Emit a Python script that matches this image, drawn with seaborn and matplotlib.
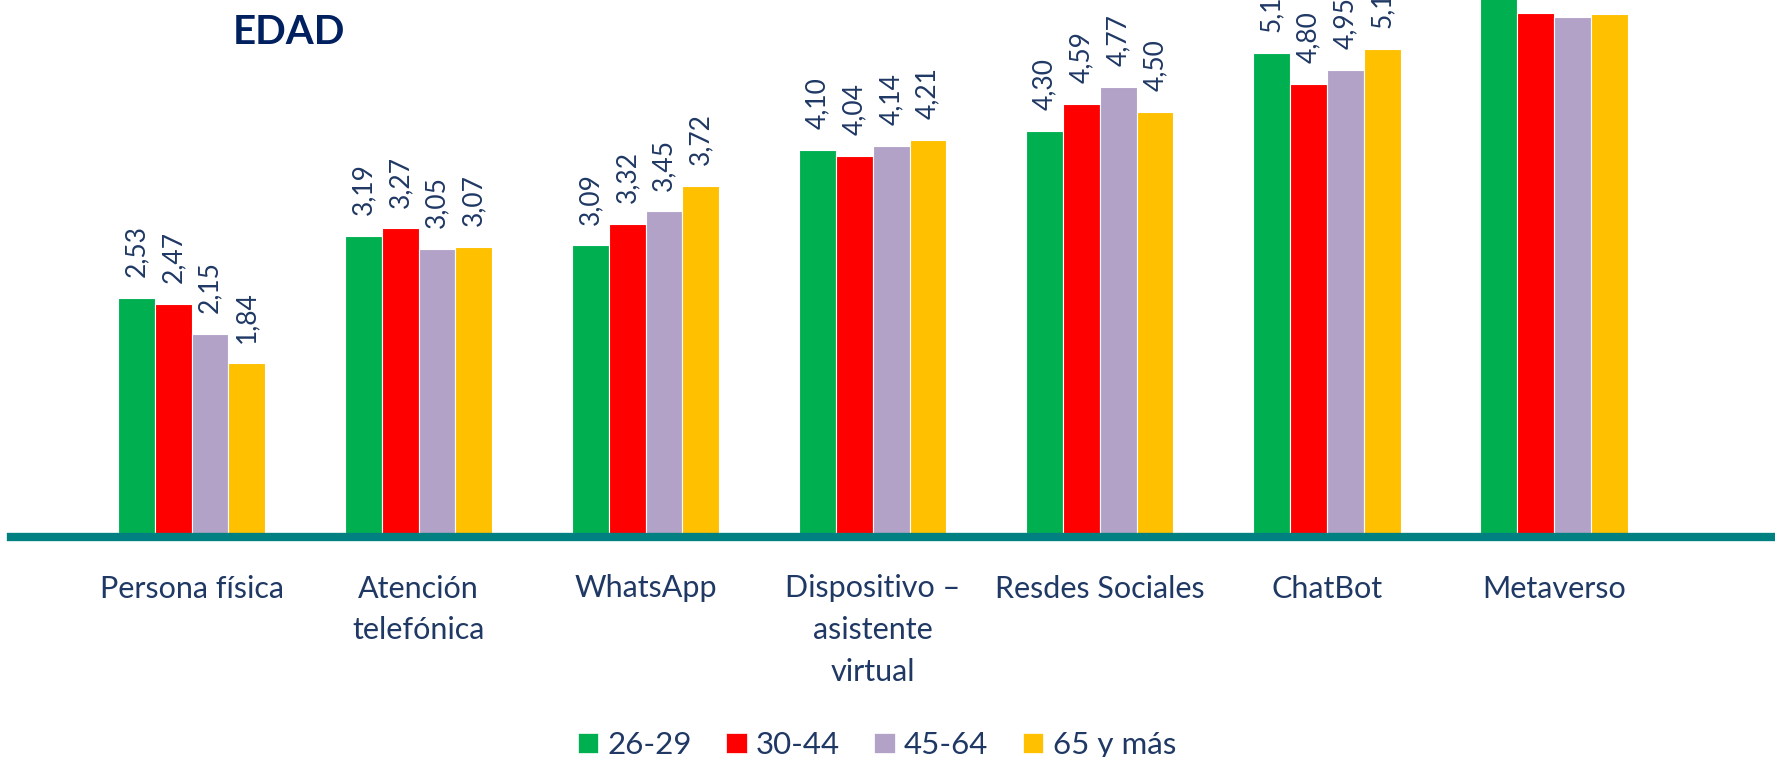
import matplotlib
matplotlib.use("Agg")
import matplotlib.pyplot as plt
from matplotlib.patches import Patch
import seaborn as sns
import pandas as pd

# ---- data ----
categories = ['Persona física', 'Atención\ntelefónica', 'WhatsApp',
              'Dispositivo –\nasistente\nvirtual', 'Resdes Sociales',
              'ChatBot', 'Metaverso']
groups = ['26-29', '30-44', '45-64', '65 y más']
v_26_29 = [2.53, 3.19, 3.09, 4.10, 4.30, 5.13, 5.80]
v_30_44 = [2.47, 3.27, 3.32, 4.04, 4.59, 4.80, 5.55]
v_45_64 = [2.15, 3.05, 3.45, 4.14, 4.77, 4.95, 5.51]
v_65 = [1.84, 3.07, 3.72, 4.21, 4.50, 5.17, 5.54]
series = [v_26_29, v_30_44, v_45_64, v_65]
colors = ['#00B050', '#FF0000', '#B3A2C7', '#FFC000']
title = 'EDAD'

sns.set_style('white')
plt.rcParams['font.family'] = ['Lato', 'DejaVu Sans']

rows = []
for g, vals in zip(groups, series):
    for c, v in zip(categories, vals):
        rows.append({'Canal': c, 'Edad': g, 'Valor': v})
df = pd.DataFrame(rows)

fig = plt.figure(figsize=(17.75, 7.57), dpi=100)
ax = fig.add_axes([11 / 1775, 220 / 757, 1 - 11 / 1775, 537 / 757])

sns.barplot(data=df, x='Canal', y='Valor', hue='Edad', order=categories,
            hue_order=groups, palette=colors, width=0.648, saturation=1,
            edgecolor='white', linewidth=0.8, legend=False, ax=ax,
            errorbar=None)

navy = '#1F3864'
for cont, vals in zip(ax.containers, series):
    labels = [f"{v:.2f}".replace('.', ',') for v in vals]
    ax.bar_label(cont, labels=labels, rotation=90, padding=15,
                 fontsize=19, color=navy)

ax.set_xlim(-0.795, 6.973)
ax.set_ylim(0, 5.69)
ax.set_yticks([])
ax.set_xlabel('')
ax.set_ylabel('')
ax.set_xticks(range(len(categories)))
ax.set_xticklabels(categories, fontsize=22, color=navy, linespacing=1.6)
ax.tick_params(axis='x', length=0, pad=27)
for s in ['top', 'right', 'left']:
    ax.spines[s].set_visible(False)
ax.spines['bottom'].set_color('#008080')
ax.spines['bottom'].set_linewidth(6)

handles = [Patch(facecolor=c, edgecolor='white', linewidth=0.5) for c in colors]
fig.legend(handles, groups, loc='center', bbox_to_anchor=(0.494, 12 / 757),
           ncol=4, frameon=False, fontsize=22.5, labelcolor=navy,
           handlelength=0.65, handleheight=0.65, handletextpad=0.3,
           columnspacing=1.1)

fig.text(233 / 1775, (757 - 44) / 757, title, fontsize=29, fontweight='bold',
         color='#002060', ha='left', va='baseline')

fig.savefig('out.png', dpi=100)
